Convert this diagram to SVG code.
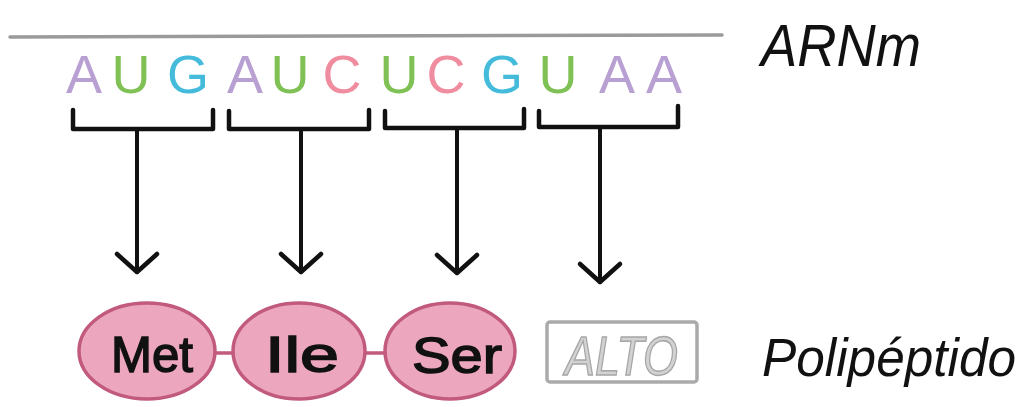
<svg xmlns="http://www.w3.org/2000/svg" width="1031" height="407" viewBox="0 0 1031 407">
  <style>
    .nt { font-family: "Liberation Sans", Arial, sans-serif; font-size: 54px; text-anchor: middle; }
    .A { fill: #b9a0d2; }
    .U { fill: #7fc155; }
    .G { fill: #45bbdc; }
    .C { fill: #f08c9f; }
    .bracket { fill: none; stroke: #111; stroke-width: 4.5; stroke-linejoin: round; stroke-linecap: round; }
    .arrow { fill: none; stroke: #111; stroke-width: 4; stroke-linecap: round; }
    .aa { fill: #eca7bf; stroke: #c25a7c; stroke-width: 3.5; }
    .link { stroke: #c25a7c; stroke-width: 3.5; }
    .aatext { font-family: "Liberation Sans", Arial, sans-serif; font-size: 50px; fill: #111; stroke: #111; stroke-width: 1.5; text-anchor: middle; }
    .label { font-family: "Liberation Sans", Arial, sans-serif; font-style: italic; fill: #111; }
  </style>
  <defs>
    <marker id="head" markerUnits="userSpaceOnUse" markerWidth="50" markerHeight="50" viewBox="-25 -25 50 50" refX="0" refY="0" orient="auto">
      <path d="M-18,-20 L0,0 L-18,20" fill="none" stroke="#111" stroke-width="4.5" stroke-linecap="round" stroke-linejoin="round"/>
    </marker>
  </defs>

  <g id="mrna">
    <line x1="10" y1="37" x2="722" y2="35" stroke="#9a9a9a" stroke-width="3.5" stroke-linecap="round"/>
    <text class="nt A" x="84" y="93">A</text>
    <text class="nt U" x="131" y="93">U</text>
    <text class="nt G" x="188" y="93">G</text>
    <text class="nt A" x="245" y="93">A</text>
    <text class="nt U" x="290" y="93">U</text>
    <text class="nt C" x="342" y="93">C</text>
    <text class="nt U" x="399" y="93">U</text>
    <text class="nt C" x="446" y="93">C</text>
    <text class="nt G" x="502" y="93">G</text>
    <text class="nt U" x="558" y="93">U</text>
    <text class="nt A" x="617" y="93">A</text>
    <text class="nt A" x="664" y="93">A</text>
  </g>
  <g id="label-arnm">
    <text class="label" x="761" y="66" font-size="60" textLength="160" lengthAdjust="spacingAndGlyphs">ARNm</text>
  </g>

  <g id="codon-1"><path class="bracket" d="M73,110 V129 H213 V110"/></g>
  <g id="codon-2"><path class="bracket" d="M229,111 V129 H369 V110"/></g>
  <g id="codon-3"><path class="bracket" d="M385,111 V128 H524 V109"/></g>
  <g id="codon-4"><path class="bracket" d="M539,111 V127 H678 V106"/></g>

  <g id="connectors">
    <path class="arrow" d="M137,129 V272" marker-end="url(#head)"/>
    <path class="arrow" d="M301,129 V272" marker-end="url(#head)"/>
    <path class="arrow" d="M457,128 V273" marker-end="url(#head)"/>
    <path class="arrow" d="M600,127 V282" marker-end="url(#head)"/>
    <line class="link" x1="214" y1="353" x2="234" y2="353"/>
    <line class="link" x1="364" y1="353" x2="386" y2="353"/>
  </g>

  <g id="met">
    <ellipse class="aa" cx="147" cy="351" rx="68" ry="48"/>
    <text class="aatext" x="152" y="372" textLength="82" lengthAdjust="spacingAndGlyphs">Met</text>
  </g>
  <g id="ile">
    <ellipse class="aa" cx="299" cy="351" rx="66" ry="48"/>
    <text class="aatext" x="302" y="372" textLength="74" lengthAdjust="spacingAndGlyphs">Ile</text>
  </g>
  <g id="ser">
    <ellipse class="aa" cx="450" cy="351" rx="65" ry="48"/>
    <text class="aatext" x="457" y="373" textLength="90" lengthAdjust="spacingAndGlyphs">Ser</text>
  </g>
  <g id="alto">
    <rect x="547" y="322" width="150" height="60" rx="3" fill="none" stroke="#aaaaaa" stroke-width="3.5"/>
    <text x="565" y="375" font-family="Liberation Sans, Arial, sans-serif" font-style="italic" font-size="56" fill="#d2d2d2" stroke="#a6a6a6" stroke-width="1.5" textLength="113" lengthAdjust="spacingAndGlyphs">ALTO</text>
  </g>
  <g id="label-polipeptido">
    <text class="label" x="762" y="376" font-size="54" textLength="254" lengthAdjust="spacingAndGlyphs">Polipéptido</text>
  </g>
</svg>
